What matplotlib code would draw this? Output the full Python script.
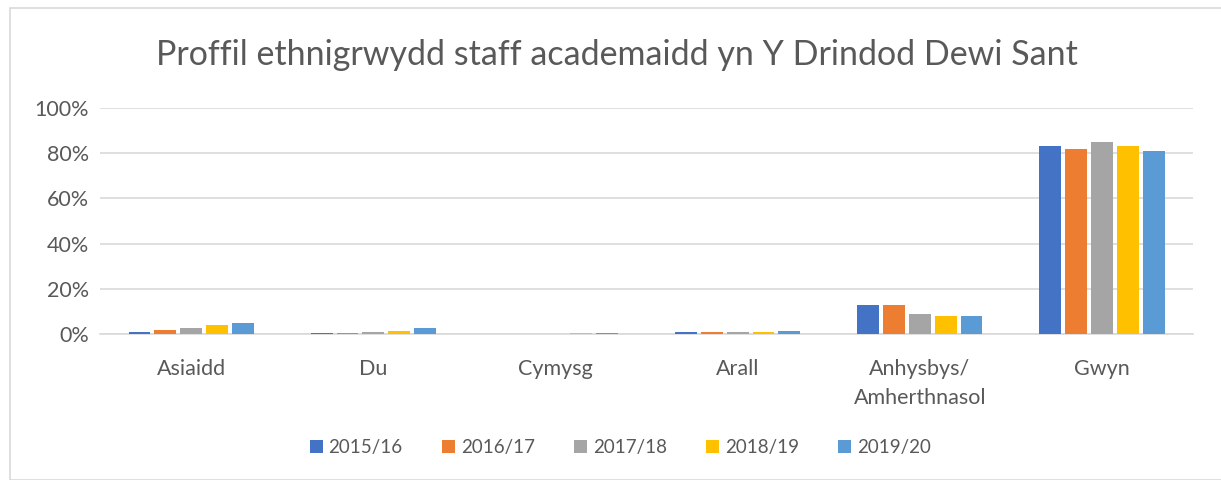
import matplotlib.pyplot as plt
import numpy as np
from matplotlib.patches import Rectangle
from matplotlib.ticker import PercentFormatter

plt.rcParams['font.family'] = ['Lato', 'DejaVu Sans']

categories = ['Asiaidd', 'Du', 'Cymysg', 'Arall', 'Anhysbys/\nAmherthnasol', 'Gwyn']
years = ['2015/16', '2016/17', '2017/18', '2018/19', '2019/20']
values = {
    '2015/16': [1.0, 0.6, 0.2, 1.0, 12.7, 83.4],
    '2016/17': [1.9, 0.4, 0.2, 1.0, 13.0, 81.9],
    '2017/18': [2.7, 1.0, 0.2, 1.0, 8.9, 85.0],
    '2018/19': [4.0, 1.5, 0.4, 1.0, 8.0, 83.4],
    '2019/20': [5.0, 2.5, 0.6, 1.2, 7.8, 81.2],
}
colours = ['#4472C4', '#ED7D31', '#A5A5A5', '#FFC000', '#5B9BD5']

fig = plt.figure(figsize=(12.21, 4.8), dpi=100)
ax = fig.add_axes([0.082, 0.304, 0.895, 0.471])

# outer chart frame
fig.patches.append(Rectangle((10 / 1221, 0), 1.0, 1 - 8 / 480, transform=fig.transFigure,
                             fill=False, edgecolor='#d9d9d9', linewidth=1.2))

x = np.arange(len(categories))
step = 0.142
width = 0.12
for i, yr in enumerate(years):
    ax.bar(x + (i - 2) * step, values[yr], width, color=colours[i], label=yr, zorder=3)

ax.set_xlim(-0.5, len(categories) - 0.5)
ax.set_ylim(0, 100)
ax.set_yticks(np.arange(0, 101, 20))
ax.yaxis.set_major_formatter(PercentFormatter(decimals=0))
ax.set_xticks(x)
ax.set_xticklabels(categories, fontsize=15.5, color='#595959', linespacing=1.55)
ax.tick_params(axis='y', labelsize=15.5, labelcolor='#595959', length=0, pad=8)
ax.tick_params(axis='x', length=0, pad=18)
ax.grid(axis='y', color='#d9d9d9', linewidth=1.2, zorder=0)
for s in ['top', 'right', 'left']:
    ax.spines[s].set_visible(False)
ax.spines['bottom'].set_color('#d9d9d9')
ax.spines['bottom'].set_linewidth(1.2)

fig.text(0.505, 0.886, 'Proffil ethnigrwydd staff academaidd yn Y Drindod Dewi Sant',
         ha='center', va='center', fontsize=24.5, color='#595959')

leg = fig.legend(loc='center', bbox_to_anchor=(0.508, 0.068), ncol=5, frameon=False,
                 fontsize=13.5, handlelength=0.7, handleheight=0.7, columnspacing=2.1,
                 handletextpad=0.3)
for t in leg.get_texts():
    t.set_color('#595959')

fig.savefig('out.png', dpi=100)
